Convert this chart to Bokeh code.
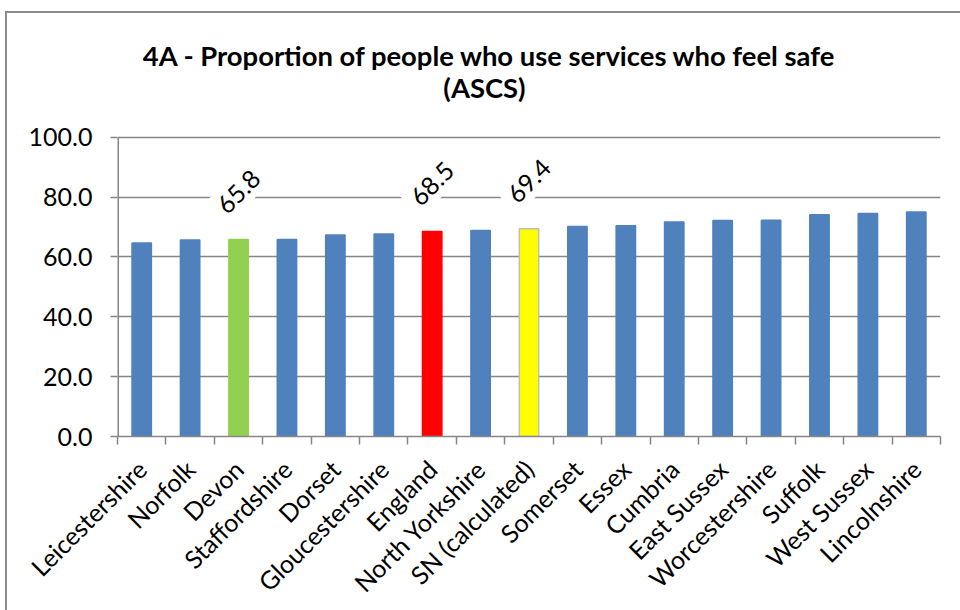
import math
from bokeh.plotting import figure
from bokeh.models import ColumnDataSource, FixedTicker, PrintfTickFormatter
from bokeh.core.properties import value
from bokeh.embed import file_html
from bokeh.resources import INLINE

# ---- data ----
categories = ["Leicestershire", "Norfolk", "Devon", "Staffordshire", "Dorset",
              "Gloucestershire", "England", "North Yorkshire", "SN (calculated)",
              "Somerset", "Essex", "Cumbria", "East Sussex", "Worcestershire",
              "Suffolk", "West Sussex", "Lincolnshire"]
values = [64.7, 65.7, 65.8, 65.8, 67.3, 67.7, 68.5, 68.8, 69.4,
          70.2, 70.4, 71.7, 72.2, 72.3, 74.1, 74.5, 75.0]
highlight_fill = {"Devon": "#92D050", "England": "#FF0000", "SN (calculated)": "#FFFF00"}
highlight_line = {"Devon": "#92D050", "England": "#FF0000", "SN (calculated)": "#BFBFBF"}
labelled = ["Devon", "England", "SN (calculated)"]
y_ticks = [0, 20, 40, 60, 80, 100]
title_lines = ["4A - Proportion of people who use services who feel safe", "(ASCS)"]

BLUE = "#4F81BD"
GREY = "#868686"
FONT = "Lato"

n = len(categories)
xs = [i + 0.5 for i in range(n)]
fills = [highlight_fill.get(c, BLUE) for c in categories]
lines = [highlight_line.get(c, BLUE) for c in categories]
y_top = y_ticks[-1] + 107 / 3          # frame extends above 100 to hold the title

p = figure(width=960, height=610, x_range=(0, n), y_range=(0, y_top),
           output_backend="svg", toolbar_location=None,
           min_border_left=117, min_border_right=20,
           min_border_top=30, min_border_bottom=173)
p.outline_line_color = None
p.background_fill_color = "white"
p.border_fill_color = None
# outer chart-area border (left and top edges) drawn behind the transparent border area
p.styles = {"background": "linear-gradient(#8c8c8c, #8c8c8c) 5px 11px / 2px 100% no-repeat, "
                          "linear-gradient(#8c8c8c, #8c8c8c) 5px 11px / 100% 2px no-repeat, white",
            "overflow": "hidden"}

src = ColumnDataSource(dict(x=xs, top=values, fill=fills, line=lines, cat=categories))
p.vbar(x="x", top="top", width=0.4, fill_color="fill", line_color="line",
       line_width=1.5, source=src)

# y axis line only from 0 to 100
p.segment(x0=[0], y0=[y_ticks[0]], x1=[0], y1=[y_ticks[-1]], line_color=GREY, line_width=3)

# value labels
lx = [xs[categories.index(c)] for c in labelled]
lv = [values[categories.index(c)] for c in labelled]
lsrc = ColumnDataSource(dict(x=lx, y=[v + 16 for v in lv], text=["%.1f" % v for v in lv]))
p.text(x="x", y="y", text="text", source=lsrc, angle=math.pi / 4,
       text_align="center", text_baseline="middle",
       text_font=value(FONT), text_font_size="25px", text_color="black",
       background_fill_color="white", padding=7)

# title
tsrc = ColumnDataSource(dict(x=[n * 0.4524, n * 0.4459], y=[y_top - 8.3, y_top - 18.9], text=title_lines))
p.text(x="x", y="y", text="text", source=tsrc, text_align="center", text_baseline="middle",
       text_font=value(FONT), text_font_style="bold", text_font_size="27.4px", text_color="black")

# y axis
p.yaxis.ticker = FixedTicker(ticks=y_ticks)
p.yaxis.formatter = PrintfTickFormatter(format="%.1f")
p.yaxis.axis_line_color = None
p.yaxis.major_tick_line_color = GREY
p.yaxis.major_tick_line_width = 1.5
p.yaxis.major_tick_out = 7
p.yaxis.major_tick_in = 0
p.yaxis.minor_tick_line_color = None
p.yaxis.major_label_text_font = FONT
p.yaxis.major_label_text_font_size = "25px"
p.yaxis.major_label_text_color = "black"
p.yaxis.major_label_standoff = 18

p.ygrid.ticker = FixedTicker(ticks=y_ticks)
p.ygrid.grid_line_color = GREY
p.ygrid.grid_line_width = 1.5
p.xgrid.visible = False

# x axis
p.xaxis.ticker = FixedTicker(ticks=xs, minor_ticks=list(range(n + 1)))
p.xaxis.major_label_overrides = {x: c for x, c in zip(xs, categories)}
p.xaxis.axis_line_color = GREY
p.xaxis.axis_line_width = 1.5
p.xaxis.major_tick_line_color = None
p.xaxis.major_tick_out = 0
p.xaxis.major_tick_in = 0
p.xaxis.minor_tick_line_color = GREY
p.xaxis.minor_tick_line_width = 1.5
p.xaxis.minor_tick_out = 8
p.xaxis.minor_tick_in = 0
p.xaxis.major_label_orientation = math.pi / 4
p.xaxis.major_label_text_font = FONT
p.xaxis.major_label_text_font_size = "25px"
p.xaxis.major_label_text_color = "black"
p.xaxis.major_label_standoff = 20

html = file_html(p, INLINE)
html = html.replace("<head>", "<head><style>html,body{margin:0;overflow:hidden}</style>", 1)
open("out.html", "w").write(html)
